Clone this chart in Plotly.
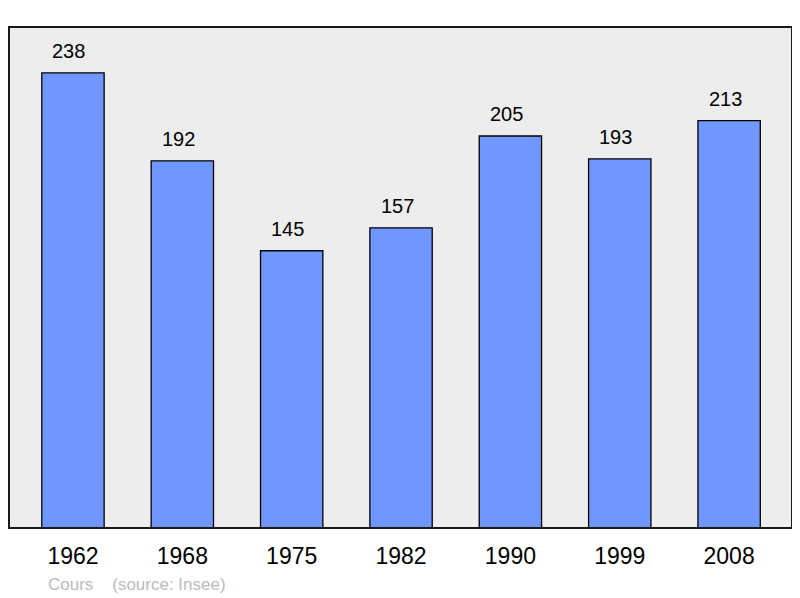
import plotly.graph_objects as go

years = ["1962", "1968", "1975", "1982", "1990", "1999", "2008"]
population = [238, 192, 145, 157, 205, 193, 213]

FONT = "Liberation Sans, Arial, sans-serif"

fig = go.Figure()
fig.add_trace(go.Bar(
    x=list(range(len(years))), y=population,
    width=0.57,
    marker=dict(color="#7096ff", line=dict(color="#000000", width=1.3)),
    hoverinfo="skip",
))
for i, v in enumerate(population):
    fig.add_annotation(x=i, y=v, text=str(v), showarrow=False, yanchor="bottom",
                       yshift=9, xshift=-4, font=dict(size=20, color="#000000", family=FONT))

fig.add_shape(type="rect", xref="x domain", yref="y domain", x0=0, x1=1, y0=0, y1=1,
              line=dict(color="#1a1a1a", width=2), layer="above")

fig.add_annotation(xref="paper", yref="paper", x=0.047, y=-0.112, xanchor="left",
                   yanchor="middle", showarrow=False,
                   text="Cours\u00a0\u00a0\u00a0\u00a0(source: Insee)",
                   font=dict(size=17, color="#bbbbbb", family=FONT))

# page has an 8px body margin, so the figure is 792x590 and offset by 8px
fig.update_layout(
    width=792, height=590,
    margin=dict(l=1, r=8, t=19, b=70),
    paper_bgcolor="#ffffff", plot_bgcolor="#ededed",
    showlegend=False,
    xaxis=dict(range=[-0.585, 6.575], tickmode="array", tickvals=list(range(len(years))),
               ticktext=years, showgrid=False, zeroline=False, ticks="",
               tickfont=dict(size=23, color="#000000", family=FONT),
               ticklabelstandoff=12),
    yaxis=dict(range=[0, 262], showgrid=False, zeroline=False, showticklabels=False, ticks=""),
    font=dict(family=FONT),
)

fig.write_html("out.html")
